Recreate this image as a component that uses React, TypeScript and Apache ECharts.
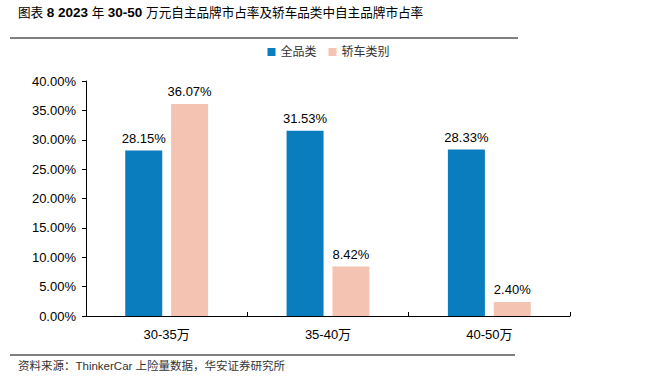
import React, { useEffect, useRef } from "react";
import * as echarts from "echarts";

const categories = ["30-35万", "35-40万", "40-50万"];
const seriesNames = ["全品类", "轿车类别"];
const allValues = [28.15, 31.53, 28.33];
const sedanValues = [36.07, 8.42, 2.4];
const yTicks = [0, 5, 10, 15, 20, 25, 30, 35, 40];

const titleParts: [string, string][] = [
  ["c", "图表 "],
  ["b", "8 2023 "],
  ["c", "年 "],
  ["b", "30-50 "],
  ["c", "万元自主品牌市占率及轿车品类中自主品牌市占率"],
];
const sourceText = "资料来源：ThinkerCar 上险量数据，华安证券研究所";

export default function App() {
  const ref = useRef<HTMLDivElement>(null);
  useEffect(() => {
    if (!ref.current) return;
    const chart = echarts.init(ref.current, null, { renderer: "svg" });
    const font = "'Liberation Sans', Arial, 'Noto Sans CJK SC', sans-serif";
    const titleRich = titleParts.map(([k, t]) => `{${k}|${t}}`).join("");
    chart.setOption({
      animation: false,
      backgroundColor: "#ffffff",
      textStyle: { fontFamily: font },
      graphic: [
        {
          type: "text",
          left: 18,
          top: 6,
          style: {
            text: titleRich,
            rich: {
              c: { fontSize: 12.6, fontWeight: "normal", fill: "#000", fontFamily: font },
              b: { fontSize: 13.5, fontWeight: "bold", fill: "#000", fontFamily: font },
            },
          },
        },
        {
          type: "line",
          shape: { x1: 10, y1: 38, x2: 518, y2: 38 },
          style: { stroke: "#000", lineWidth: 1 },
        },
        {
          type: "line",
          shape: { x1: 10, y1: 355, x2: 515, y2: 355 },
          style: { stroke: "#000", lineWidth: 1 },
        },
        {
          type: "text",
          left: 18,
          top: 360,
          style: { text: sourceText, font: `11.5px ${font}`, fill: "#333" },
        },
      ],
      legend: {
        data: seriesNames,
        top: 41,
        left: "center",
        itemWidth: 8,
        itemHeight: 8,
        itemGap: 12,
        icon: "rect",
        textStyle: { fontSize: 12, color: "#333", fontFamily: font },
      },
      grid: { left: 86, right: 87, top: 81, bottom: 62, containLabel: false },
      xAxis: {
        type: "category",
        data: categories,
        axisLine: { lineStyle: { color: "#000", width: 1 } },
        axisTick: { show: true, inside: true, length: 4, lineStyle: { color: "#000" } },
        axisLabel: { color: "#000", fontSize: 13, margin: 12, fontFamily: font },
      },
      yAxis: {
        type: "value",
        min: yTicks[0],
        max: yTicks[yTicks.length - 1],
        interval: 5,
        splitLine: { show: false },
        axisLine: { show: true, lineStyle: { color: "#000", width: 1 } },
        axisTick: { show: true, length: 4, lineStyle: { color: "#000" } },
        axisLabel: {
          color: "#000",
          fontSize: 13,
          margin: 10,
          fontFamily: font,
          formatter: (v: number) => v.toFixed(2) + "%",
        },
      },
      series: [
        {
          name: seriesNames[0],
          type: "bar",
          data: allValues,
          barWidth: 37,
          barGap: "24%",
          itemStyle: { color: "#0A7DBE" },
          label: {
            show: true,
            position: "top",
            distance: 6,
            color: "#000",
            fontSize: 13,
            fontFamily: font,
            formatter: (p: any) => p.value.toFixed(2) + "%",
          },
        },
        {
          name: seriesNames[1],
          type: "bar",
          data: sedanValues,
          barWidth: 37,
          barGap: "24%",
          itemStyle: { color: "#F5C3B1" },
          label: {
            show: true,
            position: "top",
            distance: 6,
            color: "#000",
            fontSize: 13,
            fontFamily: font,
            formatter: (p: any) => p.value.toFixed(2) + "%",
          },
        },
      ],
    });
    return () => chart.dispose();
  }, []);
  return <div ref={ref} style={{ width: 657, height: 378, position: "absolute", left: 0, top: 0 }} />;
}
